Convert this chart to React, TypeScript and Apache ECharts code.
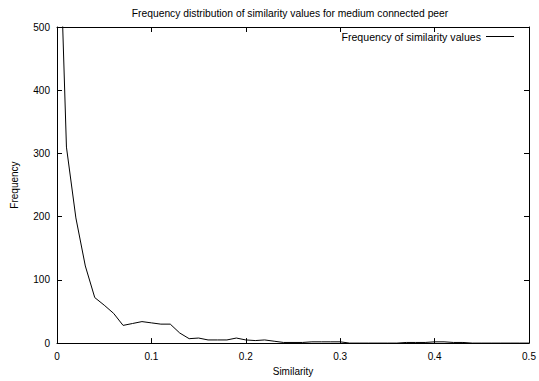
import React, { useEffect, useRef } from "react";
import * as echarts from "echarts";

const similarity = [0, 0.01, 0.02, 0.03, 0.04, 0.05, 0.06, 0.07, 0.08, 0.09, 0.1, 0.11, 0.12, 0.13, 0.14, 0.15, 0.16, 0.17, 0.18, 0.19, 0.2, 0.21, 0.22, 0.23, 0.24, 0.25, 0.26, 0.27, 0.28, 0.29, 0.3, 0.31, 0.32, 0.33, 0.34, 0.35, 0.36, 0.37, 0.38, 0.39, 0.4, 0.41, 0.42, 0.43, 0.44, 0.45, 0.46, 0.47, 0.48, 0.49, 0.5];
const frequency = [790, 310, 198, 122, 72, 60, 47, 28, 31, 34, 32, 30, 30, 16, 7, 8, 5, 5, 5, 8, 5, 4, 5, 3, 1, 1, 1, 2, 2, 2, 2, 0, 0, 0, 0, 0, 0, 1, 1, 1, 2, 2, 1, 1, 0, 0, 0, 0, 0, 0, 0];
const xTicks = [0, 0.1, 0.2, 0.3, 0.4, 0.5];

const FONT = "Liberation Sans, Arial, Helvetica, sans-serif";

export default function App() {
  const ref = useRef<HTMLDivElement>(null);
  useEffect(() => {
    const chart = echarts.init(ref.current!, null, { renderer: "svg" });
    const tickCommon = { show: true, inside: true, length: 5, lineStyle: { color: "#000", width: 1 } };
    const lineCommon = { show: true, onZero: false, lineStyle: { color: "#000", width: 1 } };
    chart.setOption({
      animation: false,
      backgroundColor: "#fff",
      title: {
        text: "Frequency distribution of similarity values for medium connected peer",
        left: 285,
        textAlign: "center",
        top: 3,
        textStyle: { fontFamily: FONT, fontSize: 10.3, fontWeight: "normal", color: "#000" },
      },
      legend: {
        right: 20,
        top: 26,
        align: "right",
        icon: "rect",
        itemWidth: 28,
        itemHeight: 1,
        itemGap: 5,
        textStyle: { fontFamily: FONT, fontSize: 10.6, color: "#000" },
        data: [{ name: "Frequency of similarity values", itemStyle: { color: "#000" } }],
      },
      grid: { left: 57, right: 10, top: 27, bottom: 36 },
      xAxis: [
        {
          type: "value",
          min: 0,
          max: 0.5,
          interval: 0.1,
          name: "Similarity",
          nameLocation: "middle",
          nameGap: 22,
          nameTextStyle: { fontFamily: FONT, fontSize: 10, color: "#000" },
          axisLine: lineCommon,
          axisTick: tickCommon,
          axisLabel: { fontFamily: FONT, fontSize: 10, color: "#000", margin: 8, formatter: (v: number) => (xTicks.includes(+v.toFixed(2)) ? String(+v.toFixed(2)) : "") },
          splitLine: { show: false },
        },
        {
          type: "value",
          position: "top",
          min: 0,
          max: 0.5,
          interval: 0.1,
          axisLine: lineCommon,
          axisTick: tickCommon,
          axisLabel: { show: false },
          splitLine: { show: false },
        },
      ],
      yAxis: [
        {
          type: "value",
          min: 0,
          max: 500,
          interval: 100,
          name: "Frequency",
          nameLocation: "middle",
          nameGap: 38,
          nameTextStyle: { fontFamily: FONT, fontSize: 10, color: "#000" },
          axisLine: lineCommon,
          axisTick: tickCommon,
          axisLabel: { fontFamily: FONT, fontSize: 10, color: "#000", margin: 7 },
          splitLine: { show: false },
        },
        {
          type: "value",
          position: "right",
          min: 0,
          max: 500,
          interval: 100,
          axisLine: lineCommon,
          axisTick: tickCommon,
          axisLabel: { show: false },
          splitLine: { show: false },
        },
      ],
      series: [
        {
          name: "Frequency of similarity values",
          type: "line",
          data: similarity.map((s, i) => [s, frequency[i]]),
          symbol: "none",
          clip: true,
          lineStyle: { color: "#000", width: 1 },
          itemStyle: { color: "#000" },
        },
      ],
    });
    return () => chart.dispose();
  }, []);
  return <div ref={ref} style={{ width: 539, height: 381, position: "absolute", left: 0, top: 0 }} />;
}
